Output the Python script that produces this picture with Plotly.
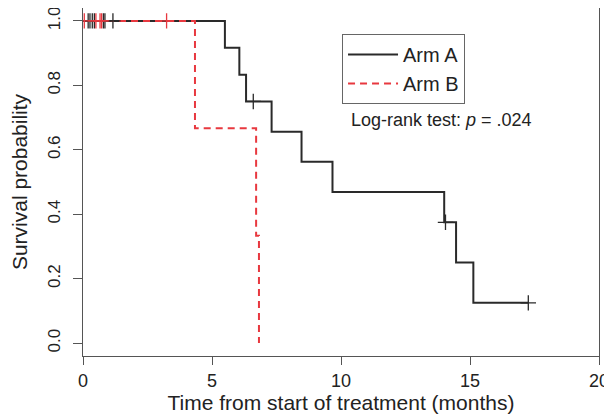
import plotly.graph_objects as go

# Kaplan-Meier step data
arm_a_time = [0, 5.5, 6.06, 6.32, 7.31, 8.47, 9.67, 14.0, 14.46, 15.13, 17.26]
arm_a_surv = [1.0, 0.917, 0.833, 0.75, 0.656, 0.563, 0.469, 0.375, 0.25, 0.125, 0.125]
arm_a_cens_time = [0.2, 0.27, 0.36, 0.44, 0.79, 0.85, 1.16, 6.6, 14.05, 17.26]
arm_a_cens_surv = [1.0, 1.0, 1.0, 1.0, 1.0, 1.0, 1.0, 0.75, 0.375, 0.125]

arm_b_time = [0, 4.34, 6.71, 6.82]
arm_b_surv = [1.0, 0.667, 0.333, 0.0]
arm_b_cens_time = [0.05, 0.5, 0.66, 0.72, 3.24]
arm_b_cens_surv = [1.0, 1.0, 1.0, 1.0, 1.0]

x_ticks = [0, 5, 10, 15, 20]
y_ticks = [0.0, 0.2, 0.4, 0.6, 0.8, 1.0]
y_tick_labels = ["0.0", "0.2", "0.4", "0.6", "0.8", "1.0"]

BLACK = "#2a2a2a"
RED = "#e8383f"
FONT = "Liberation Sans, Arial, Helvetica, sans-serif"

fig = go.Figure()
fig.add_trace(go.Scatter(x=arm_a_time, y=arm_a_surv, mode="lines", line_shape="hv",
                         line=dict(color=BLACK, width=2), name="Arm A"))
fig.add_trace(go.Scatter(x=arm_b_time, y=arm_b_surv, mode="lines", line_shape="hv",
                         line=dict(color=RED, width=2, dash="7px,5px"), name="Arm B"))
fig.add_trace(go.Scatter(x=arm_a_cens_time, y=arm_a_cens_surv, mode="markers", showlegend=False,
                         marker=dict(symbol="cross-thin", size=11, line=dict(color=BLACK, width=1.3))))
fig.add_trace(go.Scatter(x=arm_b_cens_time, y=arm_b_cens_surv, mode="markers", showlegend=False,
                         marker=dict(symbol="cross-thin", size=11, line=dict(color=RED, width=1.3))))

fig.add_annotation(x=13.88, y=0.693, xref="x", yref="y", showarrow=False,
                   text="Log-rank test: <i>p</i> = .024",
                   font=dict(family=FONT, size=18, color="#222"))

# the page body adds an 8px offset, so the figure is 8px smaller and margins shifted
fig.update_layout(
    width=604, height=410,
    margin=dict(l=75, r=13, t=0, b=62),
    paper_bgcolor="white", plot_bgcolor="white",
    font=dict(family=FONT, size=20, color="#222"),
    showlegend=True,
    legend=dict(x=0.502, y=0.925, xanchor="left", yanchor="top",
                bordercolor="#666", borderwidth=1, bgcolor="white",
                font=dict(family=FONT, size=20, color="#222"),
                tracegroupgap=0, itemwidth=50),
    xaxis=dict(range=[0, 20], tickvals=x_ticks, showgrid=False, zeroline=False, automargin=False,
               showline=True, mirror=True, linecolor="#555", linewidth=1.3,
               ticks="outside", ticklen=8, tickcolor="#555", tickwidth=1.3,
               tickfont=dict(size=18), ticklabelstandoff=0, ticklabeloverflow="allow",
               title=dict(text="Time from start of treatment (months)", font=dict(size=21), standoff=4)),
    yaxis=dict(range=[-0.04, 1.04], tickvals=y_ticks, ticktext=y_tick_labels, tickangle=-90,
               showgrid=False, zeroline=False, automargin=False,
               showline=True, mirror=True, linecolor="#555", linewidth=1.3,
               ticks="outside", ticklen=9, tickcolor="#555", tickwidth=1.3,
               tickfont=dict(size=17), ticklabelstandoff=6, ticklabeloverflow="allow",
               title=dict(text="Survival probability", font=dict(size=21), standoff=14)),
)

fig.write_html("out.html")
